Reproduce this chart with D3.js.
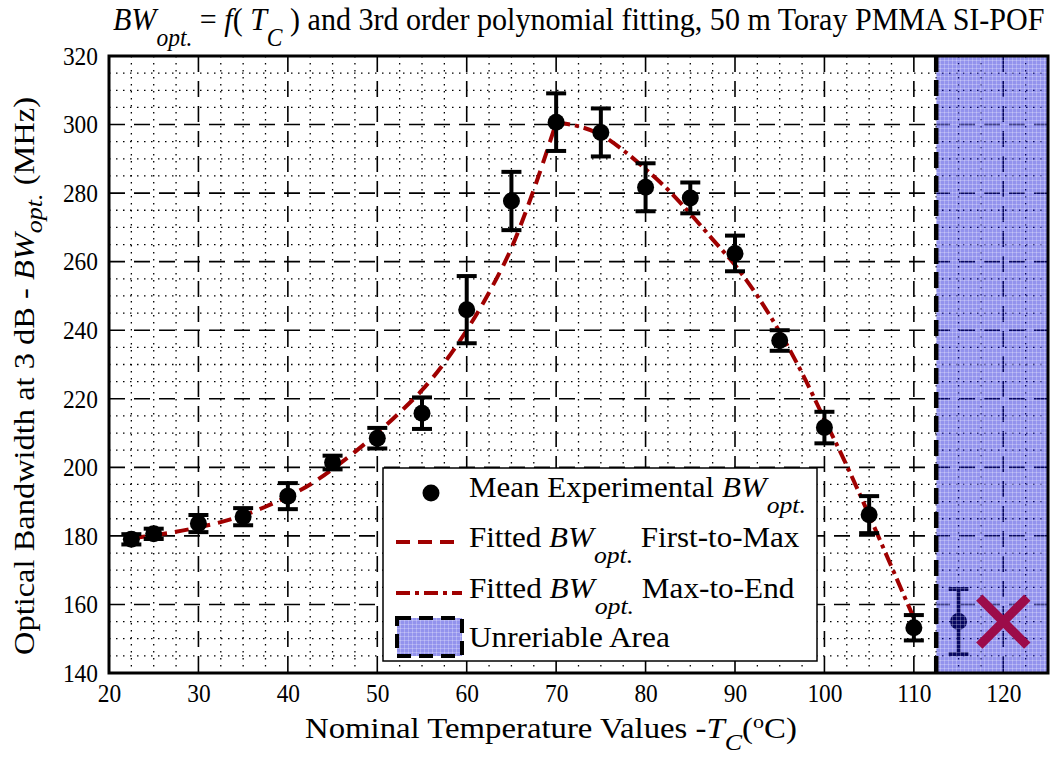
<!DOCTYPE html>
<html>
<head>
<meta charset="utf-8">
<script src="https://cdnjs.cloudflare.com/ajax/libs/d3/7.8.5/d3.min.js"></script>
<style>
  html, body { margin: 0; padding: 0; background: #fff; }
  svg { display: block; }
</style>
</head>
<body>
<svg id="chart" width="1054" height="758"></svg>
<script>
// ---------------- DATA ----------------
const xTicks = [20, 30, 40, 50, 60, 70, 80, 90, 100, 110, 120];
const yTicks = [140, 160, 180, 200, 220, 240, 260, 280, 300, 320];

const temps  = [22.5, 25, 30, 35, 40, 45, 50, 55, 60, 65, 70, 75, 80, 85, 90, 95, 100, 105, 110, 115];
const bwMean = [179.0, 180.6, 183.6, 185.6, 191.6, 201.4, 208.5, 215.8, 246.0, 277.7, 300.7, 297.7, 281.7, 278.6, 262.4, 237.0, 211.6, 186.2, 153.2, 155.0];
const bwErr  = [1.5, 1.5, 2.5, 2.5, 3.8, 2.0, 3.0, 4.6, 9.8, 8.5, 8.4, 7.0, 7.0, 4.5, 5.2, 3.0, 4.6, 5.4, 3.7, 9.5];

const fitFirstT  = [22.5, 25, 27.5, 30, 32.5, 35, 37.5, 40, 42.5, 45, 47.5, 50, 52.5, 55, 57.5, 60, 62.5, 65, 67.5, 70];
const fitFirstBW = [179.3, 180.2, 181.2, 182.5, 184.0, 186.0, 188.5, 191.5, 195.0, 199.5, 204.5, 210.0, 216.0, 222.5, 230.5, 240.0, 251.0, 264.0, 281.0, 300.5];

const fitSecondT  = [70, 72.5, 75, 77.5, 80, 82.5, 85, 87.5, 90, 92.5, 95, 97.5, 100, 102.5, 105, 107.5, 110];
const fitSecondBW = [300.5, 299.5, 297.0, 292.5, 287.0, 281.0, 274.0, 266.5, 259.0, 250.0, 239.5, 227.5, 214.0, 200.5, 186.0, 171.0, 156.0];

const unreliableRange = [112.5, 125];
const rejectedPoint = [120, 155];

const xDomain = [20, 125];
const yDomain = [140, 320];

// ---------------- LAYOUT ----------------
const FONT = '"Liberation Serif", "Times New Roman", Tinos, Times, serif';
const RED = "#a00000";
const svg = d3.select("#chart");
const L = 109, R = 1048, T = 56, B = 673;

const x = d3.scaleLinear().domain(xDomain).range([L, R]);
const y = d3.scaleLinear().domain(yDomain).range([B, T]);

// patterns
const defs = svg.append("defs");
const pat = defs.append("pattern").attr("id", "hatch")
  .attr("patternUnits", "userSpaceOnUse").attr("width", 4).attr("height", 4);
pat.append("rect").attr("width", 4).attr("height", 4).attr("fill", "#1010d8").attr("fill-opacity", 0.45);
pat.append("rect").attr("x", 0).attr("y", 0).attr("width", 4).attr("height", 1).attr("fill", "#ffffff").attr("fill-opacity", 0.25);
pat.append("rect").attr("x", 0).attr("y", 0).attr("width", 1).attr("height", 4).attr("fill", "#ffffff").attr("fill-opacity", 0.25);

// ---------------- GRID ----------------
const grid = svg.append("g");
const minorX = d3.range(xDomain[0], xDomain[1] + 0.01, 2.5).filter(v => v % 10 !== 0);
const minorY = d3.range(yDomain[0], yDomain[1] + 0.01, 5).filter(v => v % 20 !== 0);

grid.selectAll(".mx").data(minorX).join("line")
  .attr("x1", d => x(d)).attr("x2", d => x(d)).attr("y1", T).attr("y2", B)
  .attr("stroke", "#000").attr("stroke-width", 1.3).attr("stroke-dasharray", "1.5,5.5");
grid.selectAll(".my").data(minorY).join("line")
  .attr("x1", L).attr("x2", R).attr("y1", d => y(d)).attr("y2", d => y(d))
  .attr("stroke", "#000").attr("stroke-width", 1.3).attr("stroke-dasharray", "1.5,5.5");
grid.selectAll(".Mx").data(xTicks).join("line")
  .attr("x1", d => x(d)).attr("x2", d => x(d)).attr("y1", T).attr("y2", B)
  .attr("stroke", "#000").attr("stroke-width", 1.6).attr("stroke-dasharray", "16,9");
grid.selectAll(".My").data(yTicks).join("line")
  .attr("x1", L).attr("x2", R).attr("y1", d => y(d)).attr("y2", d => y(d))
  .attr("stroke", "#000").attr("stroke-width", 1.6).attr("stroke-dasharray", "16,9");

// ---------------- FITTED CURVES ----------------
const line = d3.line().x(d => x(d[0])).y(d => y(d[1])).curve(d3.curveMonotoneX);
svg.append("path").datum(fitFirstT.map((t, i) => [t, fitFirstBW[i]]))
  .attr("d", line).attr("fill", "none").attr("stroke", RED)
  .attr("stroke-width", 4).attr("stroke-dasharray", "14,8");
svg.append("path").datum(fitSecondT.map((t, i) => [t, fitSecondBW[i]]))
  .attr("d", line).attr("fill", "none").attr("stroke", RED)
  .attr("stroke-width", 4).attr("stroke-dasharray", "14,5,4,5");

// ---------------- POINTS + ERROR BARS ----------------
const pts = temps.map((t, i) => ({ t, v: bwMean[i], e: bwErr[i] }));
const eg = svg.append("g");
eg.selectAll(".ev").data(pts).join("line")
  .attr("x1", d => x(d.t)).attr("x2", d => x(d.t))
  .attr("y1", d => y(d.v - d.e)).attr("y2", d => y(d.v + d.e))
  .attr("stroke", "#000").attr("stroke-width", 4);
eg.selectAll(".ct").data(pts).join("line")
  .attr("x1", d => x(d.t) - 10).attr("x2", d => x(d.t) + 10)
  .attr("y1", d => y(d.v + d.e)).attr("y2", d => y(d.v + d.e))
  .attr("stroke", "#000").attr("stroke-width", 4);
eg.selectAll(".cb").data(pts).join("line")
  .attr("x1", d => x(d.t) - 10).attr("x2", d => x(d.t) + 10)
  .attr("y1", d => y(d.v - d.e)).attr("y2", d => y(d.v - d.e))
  .attr("stroke", "#000").attr("stroke-width", 4);
eg.selectAll("circle").data(pts).join("circle")
  .attr("cx", d => x(d.t)).attr("cy", d => y(d.v)).attr("r", 8.5).attr("fill", "#000");

// ---------------- UNRELIABLE AREA ----------------
svg.append("rect")
  .attr("x", x(unreliableRange[0])).attr("y", T)
  .attr("width", x(unreliableRange[1]) - x(unreliableRange[0])).attr("height", B - T)
  .attr("fill", "url(#hatch)");
svg.append("line")
  .attr("x1", x(unreliableRange[0])).attr("x2", x(unreliableRange[0]))
  .attr("y1", T).attr("y2", B)
  .attr("stroke", "#000").attr("stroke-width", 4.5).attr("stroke-dasharray", "16,8");

// rejected point cross
const cx = x(rejectedPoint[0]), cy = y(rejectedPoint[1]), cs = 24;
svg.append("path")
  .attr("d", `M${cx - cs},${cy - cs}L${cx + cs},${cy + cs}M${cx - cs},${cy + cs}L${cx + cs},${cy - cs}`)
  .attr("stroke", "#9c0c4a").attr("stroke-width", 9).attr("fill", "none");

// frame
svg.append("rect").attr("x", L).attr("y", T).attr("width", R - L).attr("height", B - T)
  .attr("fill", "none").attr("stroke", "#000").attr("stroke-width", 3);

// ---------------- AXES ----------------
const xAxis = svg.append("g").attr("transform", `translate(0,${B})`)
  .call(d3.axisBottom(x).tickValues(xTicks).tickSize(0).tickPadding(11));
const yAxis = svg.append("g").attr("transform", `translate(${L},0)`)
  .call(d3.axisLeft(y).tickValues(yTicks).tickSize(0).tickPadding(11));
[xAxis, yAxis].forEach(a => {
  a.select(".domain").remove();
  a.selectAll("text")
    .style("font-family", FONT).attr("font-size", 26).attr("fill", "#000");
});
xAxis.selectAll(".tick text").attr("transform", "scale(0.9,1)");
yAxis.selectAll(".tick text").attr("transform", "translate(-11,0) scale(0.9,1)").attr("x", 0);

// ---------------- RICH TEXT HELPER ----------------
function rich(parent, parts, size, subSize, subDy) {
  const t = parent.append("text").style("font-family", FONT).attr("font-size", size).attr("fill", "#000");
  let shift = 0;
  parts.forEach(p => {
    const ts = t.append("tspan").text(p.t);
    if (p.i) ts.attr("font-style", "italic");
    let target = 0;
    if (p.sub) { ts.attr("font-size", subSize); target = subDy; }
    if (p.sup) { ts.attr("font-size", subSize * 0.85); target = -subDy * 0.8; }
    const dy = target - shift;
    if (dy !== 0) ts.attr("dy", dy);
    shift = target;
  });
  return t;
}
function fitTo(textSel, width) {
  const w = textSel.node().getBBox().width;
  textSel.attr("transform", `scale(${width / w},1)`);
}

// Title
const tg = svg.append("g").attr("transform", "translate(113,30)");
fitTo(rich(tg, [
  { t: "BW", i: true }, { t: "opt.", i: true, sub: true },
  { t: " = " }, { t: "f", i: true }, { t: "( " }, { t: "T", i: true }, { t: "C", i: true, sub: true },
  { t: " ) and 3rd order polynomial fitting, 50 m Toray PMMA SI-POF" }
], 32, 25, 16), 932);

// X title
const xg = svg.append("g").attr("transform", "translate(305,738)");
fitTo(rich(xg, [
  { t: "Nominal Temperature Values  -" }, { t: "T", i: true }, { t: "C", i: true, sub: true },
  { t: "(" }, { t: "o", sup: true }, { t: "C)" }
], 29, 23, 12), 492);

// Y title
const yg = svg.append("g").attr("transform", "translate(34,655) rotate(-90)");
fitTo(rich(yg, [
  { t: "Optical Bandwidth at 3 dB  - " }, { t: "BW", i: true }, { t: "opt.", i: true, sub: true },
  { t: " (MHz)" }
], 30, 24, 8), 558);

// ---------------- LEGEND ----------------
const lg = svg.append("g");
lg.append("rect").attr("x", 383).attr("y", 468).attr("width", 434).attr("height", 193)
  .attr("fill", "#fff").attr("stroke", "#000").attr("stroke-width", 1.5);
lg.append("circle").attr("cx", 431).attr("cy", 493).attr("r", 8.5).attr("fill", "#000");
lg.append("line").attr("x1", 396).attr("x2", 462).attr("y1", 542).attr("y2", 542)
  .attr("stroke", RED).attr("stroke-width", 4).attr("stroke-dasharray", "14,8");
lg.append("line").attr("x1", 396).attr("x2", 462).attr("y1", 593).attr("y2", 593)
  .attr("stroke", RED).attr("stroke-width", 4).attr("stroke-dasharray", "14,5,4,5");
lg.append("rect").attr("x", 397).attr("y", 618).attr("width", 65).attr("height", 38)
  .attr("fill", "url(#hatch)").attr("stroke", "#000").attr("stroke-width", 4).attr("stroke-dasharray", "14,8");

const legendRows = [
  { y: 497, w: 337, parts: [{ t: "Mean Experimental " }, { t: "BW", i: true }, { t: "opt.", i: true, sub: true }] },
  { y: 547, w: 331, parts: [{ t: "Fitted " }, { t: "BW", i: true }, { t: "opt.", i: true, sub: true }, { t: "  First-to-Max" }] },
  { y: 598, w: 326, parts: [{ t: "Fitted " }, { t: "BW", i: true }, { t: "opt.", i: true, sub: true }, { t: "  Max-to-End" }] },
  { y: 647, w: 201, parts: [{ t: "Unreriable Area" }] }
];
legendRows.forEach(r => {
  const g = lg.append("g").attr("transform", `translate(469,${r.y})`);
  fitTo(rich(g, r.parts, 29, 24, 16), r.w);
});
</script>
</body>
</html>
